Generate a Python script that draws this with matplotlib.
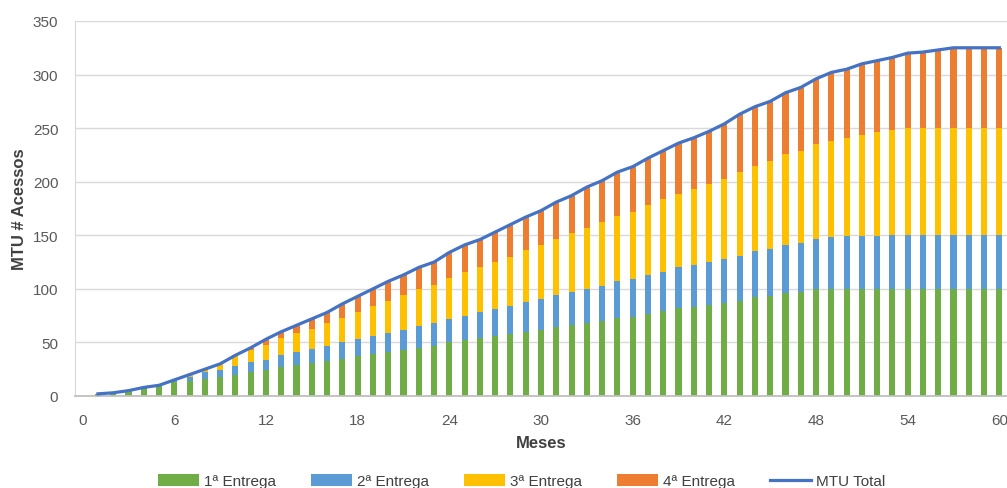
import numpy as np
import matplotlib.pyplot as plt

# monthly MTU per delivery
months = list(range(1, 61))
entrega1 = [2, 3, 5, 8, 10, 13, 14, 16, 18, 20,
            22, 24, 27, 29, 31, 33, 35, 37, 39, 41,
            43, 45, 47, 50, 52, 54, 56, 58, 60, 62,
            64, 66, 68, 70, 73, 74, 77, 79, 82, 83,
            85, 87, 89, 92, 93, 96, 97, 100, 100, 100,
            100, 100, 100, 100, 100, 100, 100, 100, 100, 100]
entrega2 = [0, 0, 0, 0, 0, 2, 4, 6, 6, 8,
            10, 10, 11, 12, 13, 14, 15, 16, 17, 18,
            19, 20, 21, 22, 23, 24, 25, 26, 28, 29,
            30, 31, 32, 33, 34, 35, 36, 37, 38, 39,
            40, 41, 42, 43, 44, 45, 46, 47, 48, 49,
            49, 49, 50, 50, 50, 50, 50, 50, 50, 50]
entrega3 = [0, 0, 0, 0, 0, 0, 2, 3, 6, 9,
            11, 14, 16, 18, 19, 21, 23, 25, 28, 30,
            32, 35, 36, 38, 41, 42, 44, 46, 48, 50,
            53, 55, 57, 59, 61, 63, 65, 68, 69, 71,
            73, 75, 78, 80, 82, 85, 86, 88, 90, 92,
            95, 97, 98, 100, 100, 100, 100, 100, 100, 100]
entrega4 = [0, 0, 0, 0, 0, 0, 0, 0, 0, 1,
            2, 5, 6, 7, 9, 10, 13, 15, 16, 18,
            19, 20, 21, 24, 25, 26, 28, 30, 31, 32,
            34, 35, 38, 39, 41, 42, 44, 45, 47, 48,
            49, 51, 54, 55, 56, 57, 59, 61, 64, 64,
            66, 67, 68, 70, 71, 73, 75, 75, 75, 75]
series_names = ['1ª Entrega', '2ª Entrega', '3ª Entrega', '4ª Entrega']
colors = ['#70AD47', '#5B9BD5', '#FFC000', '#ED7D31']
line_color = '#4472C4'

plt.rcParams['font.family'] = ['Liberation Sans', 'DejaVu Sans']

fig = plt.figure(figsize=(10.07, 4.89), dpi=100)
ax = fig.add_axes([75 / 1007, 1 - 397 / 489, 1 - 75 / 1007, (397 - 22) / 489])

data = [np.array(entrega1), np.array(entrega2), np.array(entrega3), np.array(entrega4)]
bottom = np.zeros(len(months))
for vals, name, c in zip(data, series_names, colors):
    ax.bar(months, vals, bottom=bottom, width=0.4, color=c, label=name, zorder=2)
    bottom = bottom + vals

ax.plot(months, bottom, color=line_color, linewidth=2.3, label='MTU Total', zorder=3)

ax.set_xlim(-0.5, 60.5)
ax.set_ylim(0, 350)
ax.set_xticks(range(0, 61, 6))
ax.set_yticks(range(0, 351, 50))
ax.grid(axis='y', color='#D9D9D9', linewidth=1, zorder=0)
ax.set_axisbelow(True)
for s in ['top', 'right']:
    ax.spines[s].set_visible(False)
ax.spines['left'].set_color('#D9D9D9')
ax.spines['bottom'].set_color('#BFBFBF')
ax.spines['bottom'].set_linewidth(1.3)
ax.tick_params(length=0, labelsize=11, labelcolor='#595959')
ax.tick_params(axis='y', pad=12)
ax.tick_params(axis='x', pad=12)

ax.set_xlabel('Meses', fontsize=12, fontweight='bold', color='#404040', labelpad=6)
ax.set_ylabel('MTU # Acessos', fontsize=12, fontweight='bold', color='#404040', labelpad=4)

handles, labels = ax.get_legend_handles_labels()
order = [1, 2, 3, 4, 0]
fig.legend([handles[i] for i in order], [labels[i] for i in order],
           loc='center', bbox_to_anchor=(0.518, 0.014), ncol=5, frameon=False,
           fontsize=11, handlelength=2.7, handleheight=0.8, columnspacing=2.3,
           handletextpad=0.3, labelcolor='#404040')

fig.savefig('out.png', dpi=100)
